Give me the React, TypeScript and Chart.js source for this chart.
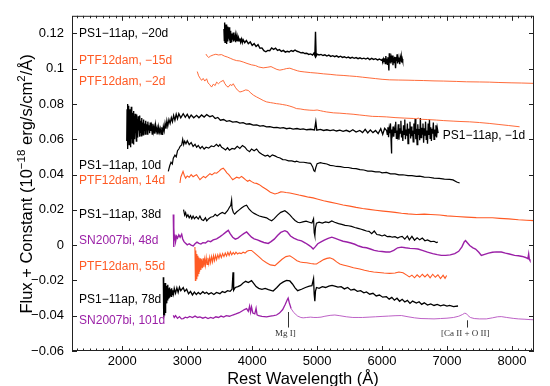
import React, { useEffect, useRef } from 'react';
import { Chart, registerables } from 'chart.js';

Chart.register(...registerables);

type P = [number, number][];

const X_MIN = 1225;
const X_MAX = 8340;
const Y_MIN = -0.06;
const Y_MAX = 0.13;
const X_TICKS = [2000, 3000, 4000, 5000, 6000, 7000, 8000];
const Y_TICKS = [-0.06, -0.04, -0.02, 0, 0.02, 0.04, 0.06, 0.08, 0.1, 0.12];

// PS1-11ap, -20d
const PS1_M20: P = [[3565,0.1225],[3571,0.1160],[3576,0.1262],[3582,0.1150],[3587,0.1230],[3593,0.1175],[3598,0.1250],[3604,0.1140],[3609,0.1215],[3615,0.1180],[3620,0.1240],[3626,0.1155],[3632,0.1210],[3638,0.1170],[3644,0.1235],[3650,0.1160],[3656,0.1205],[3662,0.1150],[3668,0.1215],[3674,0.1170],[3680,0.1200],[3687,0.1150],[3694,0.1195],[3701,0.1165],[3708,0.1205],[3715,0.1155],[3722,0.1190],[3730,0.1160],[3738,0.1185],[3746,0.1150],[3754,0.1182],[3762,0.1158],[3770,0.1180],[3780,0.1155],[3790,0.1175],[3800,0.1158],[3810,0.1172],[3822,0.1150],[3835,0.1168],[3848,0.1148],[3860,0.1165],[3885,0.1148],[3910,0.1160],[3940,0.1142],[3970,0.1152],[4000,0.1132],[4030,0.1142],[4060,0.1126],[4090,0.1136],[4120,0.1116],[4150,0.1118],[4180,0.1102],[4210,0.1096],[4240,0.1104],[4270,0.1102],[4300,0.1118],[4330,0.1110],[4360,0.1117],[4390,0.1104],[4420,0.1108],[4450,0.1098],[4480,0.1104],[4510,0.1094],[4540,0.1099],[4570,0.1095],[4600,0.1103],[4630,0.1098],[4660,0.1106],[4690,0.1099],[4720,0.1095],[4750,0.1090],[4780,0.1092],[4810,0.1086],[4840,0.1088],[4870,0.1081],[4900,0.1084],[4930,0.1077],[4950,0.1088],[4965,0.1075],[4975,0.1210],[4985,0.1072],[5000,0.1083],[5030,0.1078],[5060,0.1081],[5090,0.1075],[5120,0.1079],[5150,0.1072],[5180,0.1077],[5210,0.1070],[5240,0.1074],[5270,0.1068],[5300,0.1073],[5330,0.1066],[5360,0.1071],[5390,0.1064],[5420,0.1068],[5450,0.1062],[5480,0.1066],[5510,0.1060],[5540,0.1065],[5570,0.1059],[5600,0.1063],[5630,0.1057],[5660,0.1062],[5690,0.1056],[5720,0.1060],[5750,0.1055],[5780,0.1061],[5810,0.1052],[5840,0.1059],[5870,0.1053],[5900,0.1057],[5930,0.1050],[5960,0.1055],[5990,0.1048],[6000,0.1052],[6010,0.1044],[6020,0.1056],[6030,0.1040],[6040,0.1060],[6050,0.1030],[6058,0.1072],[6066,0.1045],[6074,0.1055],[6082,0.1025],[6090,0.1065],[6098,0.1040],[6105,0.0990],[6112,0.1088],[6120,0.1050],[6128,0.1062],[6136,0.1030],[6144,0.1058],[6152,0.1038],[6160,0.1075],[6168,0.1020],[6176,0.1060],[6184,0.1035],[6192,0.1068],[6200,0.1042],[6208,0.1003],[6216,0.1066],[6224,0.1045],[6232,0.1082],[6240,0.1030],[6248,0.1058],[6256,0.1038],[6264,0.1064],[6272,0.1025],[6280,0.1060],[6288,0.1042],[6296,0.1068],[6304,0.1035],[6312,0.1055],[6318,0.1045]];

// PTF12dam, -15d
const PTF_M15: P = [[3288,0.1083],[3310,0.1070],[3330,0.1064],[3360,0.1072],[3400,0.1078],[3440,0.1082],[3480,0.1078],[3529,0.1080],[3570,0.1072],[3620,0.1066],[3670,0.1058],[3708,0.1052],[3760,0.1046],[3810,0.1044],[3862,0.1038],[3920,0.1030],[3990,0.1022],[4050,0.1018],[4100,0.1010],[4169,0.1005],[4230,0.1008],[4290,0.1012],[4323,0.1006],[4380,0.0996],[4426,0.0992],[4480,0.0996],[4530,0.1001],[4580,0.1003],[4640,0.0995],[4700,0.0988],[4734,0.0985],[4800,0.0982],[4900,0.0978],[5000,0.0975],[5097,0.0971],[5200,0.0968],[5300,0.0964],[5400,0.0962],[5500,0.0959],[5606,0.0956],[5700,0.0952],[5800,0.0948],[5900,0.0944],[6000,0.0940],[6118,0.0937],[6250,0.0936],[6400,0.0935],[6500,0.0934],[6636,0.0933],[6800,0.0931],[6950,0.0930],[7144,0.0928],[7300,0.0926],[7500,0.0925],[7657,0.0924],[7800,0.0922],[8000,0.0920],[8150,0.0919],[8340,0.0917]];

// PTF12dam, -2d
const PTF_M2: P = [[3154,0.0984],[3175,0.0960],[3200,0.0945],[3221,0.0934],[3245,0.0945],[3270,0.0930],[3298,0.0943],[3320,0.0920],[3345,0.0910],[3375,0.0896],[3400,0.0912],[3430,0.0905],[3452,0.0924],[3480,0.0915],[3510,0.0925],[3555,0.0934],[3580,0.0915],[3610,0.0900],[3632,0.0896],[3660,0.0910],[3690,0.0905],[3708,0.0915],[3740,0.0895],[3770,0.0880],[3811,0.0868],[3850,0.0872],[3900,0.0880],[3939,0.0877],[3980,0.0862],[4020,0.0850],[4068,0.0840],[4120,0.0830],[4170,0.0820],[4222,0.0812],[4280,0.0808],[4330,0.0805],[4375,0.0802],[4420,0.0800],[4470,0.0797],[4529,0.0793],[4580,0.0788],[4630,0.0782],[4683,0.0774],[4740,0.0772],[4800,0.0768],[4888,0.0765],[4950,0.0764],[5000,0.0766],[5050,0.0762],[5100,0.0758],[5145,0.0755],[5250,0.0750],[5350,0.0748],[5450,0.0745],[5554,0.0742],[5650,0.0738],[5750,0.0734],[5850,0.0730],[5950,0.0729],[6067,0.0727],[6200,0.0723],[6350,0.0720],[6482,0.0718],[6540,0.0716],[6557,0.0722],[6575,0.0714],[6620,0.0713],[6700,0.0712],[6837,0.0709],[6950,0.0706],[7094,0.0703],[7200,0.0701],[7349,0.0699],[7500,0.0695],[7650,0.0690],[7800,0.0684],[7950,0.0678],[8118,0.0671]];

// PS1-11ap, -1d
const PS1_M1: P = [[2068,0.0590],[2073,0.0770],[2078,0.0610],[2082,0.0800],[2087,0.0545],[2091,0.0720],[2096,0.0650],[2100,0.0790],[2105,0.0570],[2110,0.0740],[2114,0.0620],[2119,0.0770],[2124,0.0555],[2128,0.0700],[2133,0.0640],[2138,0.0785],[2143,0.0600],[2148,0.0720],[2152,0.0580],[2157,0.0750],[2162,0.0640],[2167,0.0710],[2172,0.0570],[2177,0.0760],[2182,0.0625],[2187,0.0730],[2192,0.0600],[2198,0.0745],[2204,0.0640],[2210,0.0700],[2216,0.0590],[2222,0.0740],[2228,0.0630],[2234,0.0715],[2240,0.0610],[2246,0.0730],[2252,0.0650],[2258,0.0700],[2264,0.0615],[2271,0.0735],[2278,0.0640],[2285,0.0705],[2292,0.0620],[2299,0.0720],[2306,0.0655],[2313,0.0695],[2320,0.0625],[2328,0.0712],[2336,0.0650],[2344,0.0690],[2352,0.0630],[2360,0.0705],[2368,0.0655],[2376,0.0685],[2384,0.0630],[2393,0.0700],[2402,0.0650],[2411,0.0680],[2420,0.0635],[2430,0.0695],[2440,0.0648],[2450,0.0672],[2460,0.0630],[2470,0.0688],[2480,0.0645],[2490,0.0668],[2500,0.0632],[2512,0.0682],[2524,0.0645],[2536,0.0665],[2548,0.0628],[2560,0.0670],[2572,0.0640],[2584,0.0660],[2596,0.0630],[2608,0.0668],[2620,0.0625],[2632,0.0672],[2645,0.0648],[2658,0.0690],[2672,0.0660],[2686,0.0705],[2700,0.0675],[2718,0.0712],[2736,0.0690],[2755,0.0722],[2772,0.0700],[2790,0.0735],[2810,0.0708],[2830,0.0742],[2850,0.0716],[2870,0.0745],[2900,0.0722],[2938,0.0745],[2970,0.0725],[3000,0.0742],[3030,0.0720],[3060,0.0738],[3100,0.0722],[3144,0.0736],[3180,0.0722],[3220,0.0738],[3260,0.0726],[3300,0.0740],[3349,0.0728],[3390,0.0734],[3430,0.0718],[3470,0.0724],[3510,0.0708],[3560,0.0712],[3606,0.0702],[3650,0.0706],[3700,0.0697],[3760,0.0700],[3810,0.0692],[3860,0.0694],[3910,0.0686],[3960,0.0688],[4016,0.0680],[4070,0.0682],[4120,0.0675],[4170,0.0677],[4220,0.0670],[4272,0.0672],[4330,0.0666],[4380,0.0668],[4430,0.0663],[4480,0.0666],[4529,0.0660],[4580,0.0663],[4630,0.0658],[4690,0.0661],[4740,0.0656],[4785,0.0659],[4840,0.0654],[4900,0.0657],[4960,0.0653],[4980,0.0700],[4995,0.0652],[5050,0.0656],[5100,0.0650],[5150,0.0654],[5200,0.0649],[5250,0.0653],[5298,0.0647],[5350,0.0652],[5400,0.0645],[5450,0.0651],[5500,0.0643],[5550,0.0654],[5600,0.0641],[5657,0.0650],[5700,0.0638],[5740,0.0656],[5780,0.0636],[5820,0.0653],[5860,0.0638],[5900,0.0650],[5940,0.0632],[5980,0.0660],[6010,0.0628],[6040,0.0662],[6070,0.0650],[6080,0.0628],[6090,0.0668],[6100,0.0612],[6110,0.0660],[6120,0.0635],[6130,0.0690],[6138,0.0600],[6144,0.0520],[6150,0.0655],[6160,0.0630],[6170,0.0672],[6180,0.0615],[6190,0.0660],[6200,0.0640],[6210,0.0700],[6220,0.0605],[6230,0.0650],[6240,0.0625],[6250,0.0685],[6260,0.0598],[6270,0.0662],[6280,0.0635],[6290,0.0705],[6300,0.0610],[6310,0.0648],[6320,0.0590],[6330,0.0680],[6340,0.0628],[6350,0.0712],[6360,0.0600],[6370,0.0655],[6380,0.0620],[6390,0.0690],[6400,0.0575],[6410,0.0660],[6420,0.0635],[6430,0.0700],[6440,0.0605],[6450,0.0672],[6460,0.0618],[6470,0.0650],[6480,0.0585],[6490,0.0690],[6500,0.0630],[6510,0.0715],[6520,0.0600],[6530,0.0660],[6540,0.0570],[6550,0.0685],[6560,0.0625],[6570,0.0658],[6580,0.0595],[6590,0.0720],[6600,0.0610],[6610,0.0665],[6620,0.0630],[6630,0.0690],[6640,0.0580],[6650,0.0662],[6660,0.0620],[6670,0.0700],[6680,0.0600],[6690,0.0650],[6700,0.0575],[6710,0.0690],[6720,0.0625],[6730,0.0710],[6740,0.0605],[6750,0.0668],[6760,0.0590],[6770,0.0660],[6780,0.0632],[6790,0.0695],[6800,0.0600],[6810,0.0655],[6820,0.0620],[6830,0.0680],[6840,0.0610],[6850,0.0665],[6864,0.0635]];

// PS1-11ap, 10d
const PS1_10: P = [[2708,0.0418],[2730,0.0450],[2750,0.0470],[2770,0.0460],[2785,0.0493],[2810,0.0510],[2830,0.0500],[2850,0.0535],[2870,0.0545],[2890,0.0560],[2914,0.0568],[2930,0.0600],[2945,0.0570],[2960,0.0590],[2980,0.0575],[3000,0.0592],[3030,0.0570],[3060,0.0582],[3090,0.0560],[3120,0.0572],[3144,0.0555],[3170,0.0565],[3200,0.0548],[3230,0.0560],[3260,0.0545],[3290,0.0555],[3330,0.0550],[3370,0.0562],[3410,0.0558],[3450,0.0572],[3480,0.0560],[3503,0.0570],[3530,0.0555],[3560,0.0548],[3590,0.0540],[3620,0.0552],[3650,0.0538],[3690,0.0548],[3730,0.0545],[3770,0.0560],[3810,0.0548],[3850,0.0565],[3888,0.0555],[3920,0.0540],[3960,0.0530],[3990,0.0545],[4030,0.0535],[4068,0.0545],[4110,0.0525],[4150,0.0515],[4200,0.0505],[4240,0.0510],[4272,0.0500],[4310,0.0512],[4350,0.0506],[4390,0.0498],[4430,0.0494],[4470,0.0485],[4510,0.0484],[4560,0.0478],[4610,0.0478],[4660,0.0472],[4683,0.0476],[4730,0.0470],[4790,0.0470],[4850,0.0466],[4900,0.0464],[4930,0.0445],[4950,0.0422],[4965,0.0418],[4980,0.0440],[5000,0.0462],[5050,0.0468],[5100,0.0463],[5150,0.0460],[5200,0.0452],[5250,0.0450],[5298,0.0446],[5360,0.0445],[5420,0.0440],[5480,0.0440],[5540,0.0435],[5600,0.0434],[5660,0.0428],[5720,0.0426],[5780,0.0420],[5840,0.0420],[5900,0.0415],[5960,0.0416],[6000,0.0410],[6067,0.0412],[6130,0.0404],[6200,0.0404],[6260,0.0398],[6320,0.0399],[6400,0.0394],[6460,0.0394],[6530,0.0390],[6580,0.0391],[6650,0.0386],[6720,0.0385],[6800,0.0380],[6880,0.0378],[6960,0.0374],[7040,0.0373],[7092,0.0370],[7150,0.0358],[7195,0.0352]];

// PTF12dam, 14d
const PTF_14: P = [[2888,0.0352],[2900,0.0385],[2915,0.0399],[2935,0.0418],[2955,0.0395],[2975,0.0380],[3000,0.0392],[3030,0.0385],[3060,0.0400],[3090,0.0388],[3120,0.0395],[3144,0.0399],[3170,0.0385],[3195,0.0371],[3220,0.0380],[3250,0.0390],[3280,0.0382],[3320,0.0395],[3350,0.0405],[3380,0.0398],[3420,0.0410],[3452,0.0408],[3490,0.0420],[3520,0.0430],[3554,0.0436],[3580,0.0425],[3610,0.0410],[3640,0.0400],[3670,0.0385],[3700,0.0371],[3730,0.0378],[3760,0.0385],[3800,0.0380],[3835,0.0390],[3862,0.0382],[3900,0.0370],[3930,0.0362],[3960,0.0368],[3990,0.0360],[4030,0.0352],[4068,0.0350],[4110,0.0343],[4160,0.0330],[4222,0.0315],[4280,0.0300],[4350,0.0290],[4400,0.0296],[4440,0.0302],[4477,0.0301],[4520,0.0298],[4580,0.0296],[4650,0.0290],[4720,0.0284],[4800,0.0278],[4870,0.0272],[4939,0.0268],[5000,0.0262],[5100,0.0252],[5200,0.0244],[5300,0.0236],[5400,0.0228],[5503,0.0221],[5600,0.0214],[5700,0.0208],[5800,0.0203],[5900,0.0198],[6016,0.0193],[6100,0.0190],[6200,0.0186],[6300,0.0181],[6400,0.0177],[6529,0.0174],[6650,0.0176],[6750,0.0174],[6888,0.0171],[7000,0.0166],[7150,0.0162],[7298,0.0159],[7450,0.0156],[7600,0.0155],[7700,0.0155],[7811,0.0152],[7950,0.0149],[8100,0.0144],[8222,0.0141],[8340,0.0139]];

// PS1-11ap, 38d
const PS1_38: P = [[2943,0.0202],[2960,0.0170],[2975,0.0185],[2990,0.0160],[3010,0.0172],[3030,0.0155],[3050,0.0168],[3070,0.0150],[3090,0.0165],[3110,0.0150],[3140,0.0162],[3170,0.0148],[3195,0.0165],[3220,0.0145],[3250,0.0140],[3280,0.0155],[3300,0.0137],[3330,0.0150],[3360,0.0158],[3400,0.0162],[3430,0.0175],[3460,0.0165],[3503,0.0178],[3540,0.0185],[3580,0.0178],[3620,0.0195],[3650,0.0215],[3670,0.0225],[3683,0.0255],[3690,0.0210],[3710,0.0185],[3730,0.0176],[3760,0.0188],[3800,0.0200],[3840,0.0212],[3880,0.0222],[3914,0.0226],[3950,0.0205],[3990,0.0190],[4030,0.0180],[4070,0.0172],[4110,0.0165],[4160,0.0160],[4222,0.0155],[4260,0.0145],[4300,0.0138],[4340,0.0150],[4390,0.0170],[4440,0.0186],[4503,0.0195],[4540,0.0185],[4580,0.0172],[4620,0.0155],[4660,0.0140],[4700,0.0130],[4734,0.0127],[4780,0.0132],[4830,0.0136],[4880,0.0130],[4920,0.0125],[4945,0.0150],[4955,0.0070],[4965,0.0052],[4975,0.0100],[4990,0.0125],[5030,0.0130],[5080,0.0125],[5130,0.0132],[5180,0.0128],[5226,0.0137],[5270,0.0130],[5330,0.0122],[5380,0.0118],[5430,0.0112],[5480,0.0110],[5530,0.0106],[5580,0.0100],[5630,0.0095],[5680,0.0090],[5720,0.0085],[5760,0.0080],[5800,0.0078],[5840,0.0065],[5880,0.0080],[5920,0.0060],[5960,0.0058],[6000,0.0052],[6040,0.0058],[6080,0.0048],[6120,0.0050],[6160,0.0045],[6200,0.0048],[6240,0.0040],[6272,0.0046],[6310,0.0050],[6350,0.0034],[6390,0.0052],[6420,0.0030],[6460,0.0050],[6500,0.0028],[6540,0.0042],[6580,0.0030],[6620,0.0040],[6660,0.0025],[6700,0.0030],[6750,0.0020],[6800,0.0022],[6837,0.0015],[6860,0.0018]];

// SN2007bi, 48d
const SN_48: P = [[2785,0.0174],[2790,-0.0010],[2795,0.0100],[2800,0.0030],[2810,0.0060],[2820,0.0020],[2835,0.0050],[2850,0.0040],[2870,0.0058],[2890,0.0045],[2914,0.0062],[2930,0.0035],[2950,0.0020],[2970,0.0012],[3000,0.0002],[3030,0.0008],[3060,0.0000],[3092,-0.0004],[3120,0.0008],[3150,0.0017],[3180,0.0010],[3210,0.0006],[3240,0.0014],[3280,0.0012],[3320,0.0024],[3360,0.0020],[3400,0.0030],[3452,0.0036],[3500,0.0047],[3550,0.0060],[3600,0.0075],[3632,0.0084],[3660,0.0065],[3700,0.0045],[3740,0.0034],[3780,0.0040],[3830,0.0055],[3870,0.0065],[3914,0.0075],[3950,0.0060],[3990,0.0045],[4030,0.0036],[4080,0.0030],[4130,0.0022],[4180,0.0015],[4247,0.0010],[4290,0.0020],[4340,0.0034],[4390,0.0055],[4440,0.0072],[4503,0.0082],[4540,0.0075],[4590,0.0052],[4640,0.0040],[4700,0.0030],[4760,0.0024],[4820,0.0012],[4870,0.0000],[4910,-0.0010],[4939,-0.0022],[4970,-0.0010],[5010,0.0008],[5060,0.0018],[5110,0.0028],[5170,0.0038],[5226,0.0045],[5280,0.0038],[5340,0.0030],[5400,0.0022],[5460,0.0018],[5520,0.0012],[5580,0.0005],[5640,-0.0005],[5700,-0.0012],[5760,-0.0015],[5820,-0.0022],[5880,-0.0030],[5940,-0.0034],[6000,-0.0036],[6060,-0.0039],[6118,-0.0039],[6180,-0.0030],[6240,-0.0015],[6298,-0.0011],[6360,-0.0015],[6430,-0.0018],[6500,-0.0020],[6554,-0.0022],[6620,-0.0030],[6700,-0.0040],[6780,-0.0048],[6850,-0.0054],[6913,-0.0058],[6980,-0.0058],[7050,-0.0055],[7120,-0.0048],[7180,-0.0035],[7230,-0.0010],[7265,0.0018],[7285,0.0026],[7310,0.0015],[7350,-0.0002],[7400,-0.0015],[7440,-0.0022],[7490,-0.0040],[7529,-0.0058],[7580,-0.0052],[7640,-0.0045],[7700,-0.0040],[7760,-0.0038],[7836,-0.0039],[7900,-0.0045],[7960,-0.0050],[8041,-0.0058],[8100,-0.0060],[8160,-0.0064],[8210,-0.0070],[8246,-0.0077],[8258,-0.0050],[8268,-0.0080],[8278,-0.0087]];

// PTF12dam, 55d
const PTF_55: P = [[3118,-0.0010],[3125,-0.0200],[3132,-0.0030],[3140,-0.0190],[3148,-0.0050],[3156,-0.0175],[3164,-0.0060],[3172,-0.0160],[3180,-0.0070],[3190,-0.0150],[3200,-0.0075],[3210,-0.0140],[3220,-0.0080],[3232,-0.0130],[3244,-0.0075],[3256,-0.0125],[3268,-0.0080],[3280,-0.0115],[3292,-0.0070],[3305,-0.0110],[3318,-0.0072],[3332,-0.0105],[3346,-0.0068],[3360,-0.0100],[3375,-0.0065],[3390,-0.0095],[3405,-0.0060],[3420,-0.0088],[3436,-0.0058],[3452,-0.0082],[3470,-0.0055],[3488,-0.0075],[3505,-0.0050],[3525,-0.0070],[3545,-0.0048],[3565,-0.0065],[3585,-0.0045],[3605,-0.0062],[3625,-0.0040],[3645,-0.0058],[3665,-0.0038],[3685,-0.0055],[3708,-0.0042],[3730,-0.0052],[3750,-0.0040],[3775,-0.0050],[3800,-0.0044],[3830,-0.0048],[3860,-0.0040],[3890,-0.0045],[3920,-0.0035],[3950,-0.0030],[3990,-0.0030],[4030,-0.0042],[4070,-0.0055],[4110,-0.0068],[4160,-0.0085],[4220,-0.0100],[4280,-0.0112],[4350,-0.0116],[4400,-0.0100],[4460,-0.0080],[4520,-0.0065],[4580,-0.0060],[4630,-0.0072],[4690,-0.0088],[4740,-0.0096],[4785,-0.0098],[4840,-0.0100],[4900,-0.0104],[4950,-0.0106],[4991,-0.0107],[5040,-0.0095],[5100,-0.0082],[5150,-0.0075],[5195,-0.0072],[5250,-0.0080],[5300,-0.0095],[5350,-0.0107],[5400,-0.0112],[5480,-0.0120],[5560,-0.0128],[5657,-0.0135],[5730,-0.0142],[5800,-0.0148],[5870,-0.0152],[5950,-0.0155],[6030,-0.0158],[6118,-0.0160],[6200,-0.0158],[6260,-0.0152],[6323,-0.0156],[6380,-0.0170],[6420,-0.0180],[6460,-0.0170],[6500,-0.0185],[6540,-0.0168],[6580,-0.0182],[6620,-0.0165],[6660,-0.0180],[6700,-0.0166],[6740,-0.0185],[6780,-0.0165],[6820,-0.0182],[6860,-0.0168],[6900,-0.0190],[6940,-0.0170],[6970,-0.0188],[6995,-0.0172]];

// PS1-11ap, 78d
const PS1_78: P = [[2631,-0.0182],[2634,-0.0300],[2637,-0.0410],[2641,-0.0230],[2645,-0.0395],[2649,-0.0260],[2653,-0.0370],[2658,-0.0215],[2662,-0.0385],[2667,-0.0250],[2672,-0.0340],[2677,-0.0230],[2682,-0.0330],[2688,-0.0260],[2694,-0.0310],[2700,-0.0225],[2707,-0.0300],[2714,-0.0245],[2721,-0.0295],[2728,-0.0240],[2736,-0.0285],[2744,-0.0250],[2752,-0.0290],[2760,-0.0245],[2770,-0.0280],[2780,-0.0255],[2790,-0.0275],[2800,-0.0245],[2820,-0.0272],[2840,-0.0242],[2860,-0.0268],[2880,-0.0238],[2900,-0.0258],[2938,-0.0240],[2960,-0.0262],[2990,-0.0250],[3020,-0.0276],[3050,-0.0262],[3080,-0.0282],[3110,-0.0266],[3140,-0.0280],[3170,-0.0268],[3200,-0.0278],[3240,-0.0264],[3270,-0.0274],[3298,-0.0267],[3330,-0.0278],[3370,-0.0270],[3410,-0.0280],[3450,-0.0268],[3503,-0.0275],[3540,-0.0263],[3580,-0.0269],[3620,-0.0258],[3660,-0.0262],[3690,-0.0250],[3705,-0.0154],[3715,-0.0255],[3740,-0.0240],[3780,-0.0235],[3820,-0.0228],[3860,-0.0215],[3900,-0.0205],[3940,-0.0212],[3990,-0.0201],[4020,-0.0215],[4060,-0.0235],[4100,-0.0245],[4150,-0.0250],[4200,-0.0245],[4250,-0.0252],[4323,-0.0260],[4380,-0.0240],[4430,-0.0220],[4480,-0.0208],[4530,-0.0200],[4580,-0.0203],[4620,-0.0220],[4660,-0.0242],[4700,-0.0258],[4760,-0.0250],[4820,-0.0240],[4880,-0.0232],[4920,-0.0230],[4945,-0.0190],[4955,-0.0280],[4965,-0.0318],[4975,-0.0260],[4990,-0.0240],[5030,-0.0245],[5080,-0.0235],[5130,-0.0240],[5180,-0.0232],[5230,-0.0228],[5272,-0.0232],[5320,-0.0238],[5370,-0.0235],[5420,-0.0248],[5470,-0.0240],[5520,-0.0255],[5570,-0.0250],[5620,-0.0262],[5670,-0.0258],[5720,-0.0270],[5760,-0.0265],[5810,-0.0278],[5860,-0.0273],[5910,-0.0288],[5960,-0.0283],[6010,-0.0295],[6067,-0.0292],[6110,-0.0306],[6150,-0.0296],[6190,-0.0312],[6230,-0.0301],[6270,-0.0318],[6310,-0.0307],[6350,-0.0322],[6390,-0.0313],[6430,-0.0330],[6470,-0.0317],[6529,-0.0328],[6570,-0.0321],[6610,-0.0336],[6650,-0.0327],[6700,-0.0340],[6750,-0.0333],[6800,-0.0342],[6850,-0.0336],[6900,-0.0344],[6950,-0.0339],[7000,-0.0346],[7041,-0.0342],[7100,-0.0348],[7170,-0.0345]];

// SN2007bi, 101d
const SN_101: P = [[2785,-0.0398],[2800,-0.0410],[2820,-0.0400],[2850,-0.0415],[2880,-0.0405],[2910,-0.0418],[2938,-0.0416],[2970,-0.0408],[3000,-0.0412],[3040,-0.0404],[3080,-0.0410],[3120,-0.0402],[3160,-0.0410],[3195,-0.0407],[3240,-0.0414],[3280,-0.0408],[3320,-0.0416],[3360,-0.0410],[3400,-0.0415],[3440,-0.0406],[3480,-0.0410],[3520,-0.0402],[3560,-0.0408],[3600,-0.0400],[3650,-0.0403],[3700,-0.0396],[3750,-0.0390],[3800,-0.0383],[3850,-0.0372],[3880,-0.0365],[3914,-0.0360],[3940,-0.0375],[3960,-0.0345],[3975,-0.0380],[3990,-0.0350],[4010,-0.0385],[4040,-0.0390],[4060,-0.0358],[4075,-0.0395],[4100,-0.0400],[4150,-0.0404],[4222,-0.0406],[4280,-0.0402],[4330,-0.0400],[4375,-0.0396],[4420,-0.0385],[4470,-0.0365],[4510,-0.0335],[4540,-0.0310],[4554,-0.0300],[4570,-0.0325],[4600,-0.0360],[4640,-0.0382],[4700,-0.0402],[4750,-0.0410],[4785,-0.0412],[4840,-0.0410],[4900,-0.0408],[4950,-0.0410],[5000,-0.0410],[5060,-0.0408],[5120,-0.0403],[5200,-0.0398],[5273,-0.0396],[5350,-0.0400],[5450,-0.0406],[5550,-0.0410],[5631,-0.0410],[5700,-0.0410],[5800,-0.0408],[5900,-0.0406],[6000,-0.0404],[6100,-0.0402],[6200,-0.0400],[6298,-0.0399],[6400,-0.0406],[6500,-0.0412],[6600,-0.0416],[6709,-0.0417],[6800,-0.0418],[6900,-0.0416],[7000,-0.0414],[7100,-0.0410],[7180,-0.0403],[7240,-0.0393],[7272,-0.0386],[7298,-0.0388],[7320,-0.0398],[7360,-0.0410],[7420,-0.0416],[7500,-0.0418],[7606,-0.0418],[7700,-0.0412],[7780,-0.0406],[7836,-0.0405],[7920,-0.0410],[8020,-0.0415],[8100,-0.0418],[8200,-0.0420],[8280,-0.0422],[8340,-0.0423]];

const BLACK = '#000000';
const ORANGE = '#ff5a24';
const PURPLE = '#9a1fa6';
const PURPLE_LIGHT = '#b650bf';

// split: wavelength after which the series is drawn lighter / thinner
const SERIES = [
  { data: PS1_M20, color: BLACK, width: 1.4 },
  { data: PTF_M15, color: ORANGE, width: 0.9 },
  { data: PTF_M2, color: ORANGE, width: 0.9 },
  { data: PS1_M1, color: BLACK, width: 1.3 },
  { data: PS1_10, color: BLACK, width: 1.2 },
  { data: PTF_14, color: ORANGE, width: 1.1 },
  { data: PS1_38, color: BLACK, width: 1.2 },
  { data: SN_48, color: PURPLE, width: 1.4 },
  { data: PTF_55, color: ORANGE, width: 1.1 },
  { data: PS1_78, color: BLACK, width: 1.3 },
  { data: SN_101, color: PURPLE, width: 1.3, split: 4600, lightColor: PURPLE_LIGHT, lightWidth: 0.9 },
];

const M = '\u2212';
const LABELS = [
  { text: `PS1${M}11ap, ${M}20d`, color: BLACK, x: 1334, y: 0.1200 },
  { text: `PTF12dam, ${M}15d`, color: ORANGE, x: 1334, y: 0.1048 },
  { text: `PTF12dam, ${M}2d`, color: ORANGE, x: 1334, y: 0.0924 },
  { text: `PS1${M}11ap, ${M}1d`, color: BLACK, x: 6934, y: 0.0620 },
  { text: `PS1${M}11ap, 10d`, color: BLACK, x: 1334, y: 0.0452 },
  { text: `PTF12dam, 14d`, color: ORANGE, x: 1334, y: 0.0367 },
  { text: `PS1${M}11ap, 38d`, color: BLACK, x: 1334, y: 0.0171 },
  { text: `SN2007bi, 48d`, color: PURPLE, x: 1334, y: 0.0024 },
  { text: `PTF12dam, 55d`, color: ORANGE, x: 1334, y: -0.0122 },
  { text: `PS1${M}11ap, 78d`, color: BLACK, x: 1334, y: -0.0308 },
  { text: `SN2007bi, 101d`, color: PURPLE, x: 1334, y: -0.0426 },
];

const LINE_IDS = [
  { text: 'Mg I]', x: 4554, top: -0.0379, bottom: -0.0467, textX: 4510, textY: -0.0501 },
  { text: '[Ca II + O II]', x: 7314, top: -0.0426, bottom: -0.0467, textX: 7282, textY: -0.0501 },
];

const SANS = '"Liberation Sans", Arial, Helvetica, sans-serif';
const SERIF = '"Liberation Serif", "Times New Roman", serif';

function fmtY(v: number): string {
  const r = Math.round(v * 100) / 100;
  if (r === 0) return '0';
  return String(r).replace('-', M);
}

function drawRich(ctx: CanvasRenderingContext2D, parts: { t: string; sup?: boolean }[], size: number) {
  const supSize = size * 0.7;
  let total = 0;
  const widths = parts.map((p) => {
    ctx.font = `${p.sup ? supSize : size}px ${SANS}`;
    const w = ctx.measureText(p.t).width;
    total += w;
    return w;
  });
  let x = -total / 2;
  parts.forEach((p, i) => {
    ctx.font = `${p.sup ? supSize : size}px ${SANS}`;
    ctx.fillText(p.t, x, p.sup ? -size * 0.42 : 0);
    x += widths[i];
  });
}

const framePlugin = {
  id: 'framePlugin',
  afterDraw(chart: any) {
    const { ctx, chartArea: a, scales } = chart;
    const xs = scales.x;
    const ys = scales.y;
    ctx.save();
    ctx.strokeStyle = '#222';
    ctx.lineWidth = 1;
    ctx.strokeRect(a.left + 0.5, a.top + 0.5, a.right - a.left - 1, a.bottom - a.top - 1);
    ctx.beginPath();
    for (let w = Math.ceil(X_MIN / 100) * 100; w <= X_MAX; w += 100) {
      const major = w % 1000 === 0;
      const len = major ? 5 : 2.5;
      const px = Math.round(xs.getPixelForValue(w)) + 0.5;
      ctx.moveTo(px, a.bottom);
      ctx.lineTo(px, a.bottom - len);
      ctx.moveTo(px, a.top);
      ctx.lineTo(px, a.top + len);
    }
    for (const v of Y_TICKS) {
      const py = Math.round(ys.getPixelForValue(v)) + 0.5;
      ctx.moveTo(a.left, py);
      ctx.lineTo(a.left + 5, py);
      ctx.moveTo(a.right, py);
      ctx.lineTo(a.right - 5, py);
    }
    ctx.stroke();

    ctx.font = `12px ${SANS}`;
    ctx.textAlign = 'left';
    ctx.textBaseline = 'middle';
    for (const l of LABELS) {
      ctx.fillStyle = l.color;
      ctx.fillText(l.text, xs.getPixelForValue(l.x), ys.getPixelForValue(l.y));
    }

    ctx.strokeStyle = '#333';
    ctx.fillStyle = '#333';
    ctx.lineWidth = 1;
    ctx.font = `9px ${SERIF}`;
    ctx.textAlign = 'center';
    for (const id of LINE_IDS) {
      const px = Math.round(xs.getPixelForValue(id.x)) + 0.5;
      ctx.beginPath();
      ctx.moveTo(px, ys.getPixelForValue(id.top));
      ctx.lineTo(px, ys.getPixelForValue(id.bottom));
      ctx.stroke();
      ctx.fillText(id.text, xs.getPixelForValue(id.textX), ys.getPixelForValue(id.textY));
    }

    ctx.fillStyle = '#000';
    ctx.textAlign = 'left';
    ctx.textBaseline = 'alphabetic';
    ctx.save();
    ctx.translate(32, (a.top + a.bottom) / 2 + 0.5);
    ctx.rotate(-Math.PI / 2);
    drawRich(ctx, [
      { t: 'Flux + Constant (10' },
      { t: `${M}18`, sup: true },
      { t: ' erg/s/cm' },
      { t: '2', sup: true },
      { t: '/\u00C5)' },
    ], 16.5);
    ctx.restore();

    ctx.save();
    ctx.translate((a.left + a.right) / 2, 384);
    drawRich(ctx, [{ t: 'Rest Wavelength (\u00C5)' }], 16.5);
    ctx.restore();

    ctx.restore();
  },
};

export default function App() {
  const ref = useRef<HTMLCanvasElement | null>(null);
  useEffect(() => {
    document.body.style.margin = '0';
    const canvas = ref.current;
    if (!canvas) return;
    const chart = new Chart(canvas, {
      type: 'scatter',
      data: {
        datasets: SERIES.map((s: any) => ({
          data: s.data.map(([x, y]: [number, number]) => ({ x, y })),
          borderColor: s.color,
          backgroundColor: s.color,
          borderWidth: s.width,
          showLine: true,
          pointRadius: 0,
          pointHoverRadius: 0,
          tension: 0,
          fill: false,
          segment: s.split
            ? {
                borderColor: (c: any) => (c.p0.parsed.x >= s.split ? s.lightColor : s.color),
                borderWidth: (c: any) => (c.p0.parsed.x >= s.split ? s.lightWidth : s.width),
              }
            : undefined,
        })),
      },
      options: {
        responsive: false,
        animation: false,
        devicePixelRatio: 1,
        layout: { padding: { top: 13, right: 16, left: 0, bottom: 0 } },
        plugins: { legend: { display: false }, tooltip: { enabled: false } },
        events: [],
        scales: {
          x: {
            type: 'linear',
            min: X_MIN,
            max: X_MAX,
            grid: { display: false, drawTicks: false },
            border: { display: false },
            afterBuildTicks: (s: any) => {
              s.ticks = X_TICKS.map((v) => ({ value: v }));
            },
            afterFit: (s: any) => {
              s.height = 35;
            },
            ticks: {
              color: '#000',
              font: { size: 13, family: SANS },
              padding: 3,
              maxRotation: 0,
              autoSkip: false,
              callback: (v: any) => String(v),
            },
          },
          y: {
            type: 'linear',
            min: Y_MIN,
            max: Y_MAX,
            grid: { display: false, drawTicks: false },
            border: { display: false },
            afterBuildTicks: (s: any) => {
              s.ticks = Y_TICKS.map((v) => ({ value: v }));
            },
            afterFit: (s: any) => {
              s.width = 72;
            },
            ticks: {
              color: '#000',
              font: { size: 13, family: SANS },
              padding: 8,
              autoSkip: false,
              callback: (v: any) => fmtY(Number(v)),
            },
          },
        },
      } as any,
      plugins: [framePlugin],
    });
    return () => chart.destroy();
  }, []);
  return (
    <div style={{ width: 550, height: 386 }}>
      <canvas ref={ref} width={550} height={386} style={{ display: 'block' }} />
    </div>
  );
}
